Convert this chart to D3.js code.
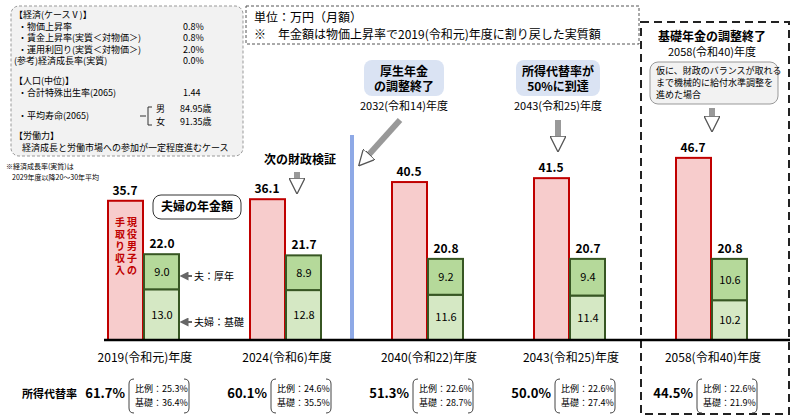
<!DOCTYPE html>
<html><head><meta charset="utf-8">
<script src="https://cdn.jsdelivr.net/npm/d3@7"></script>
<style>body{margin:0;background:#fff}text{font-family:"Noto Sans CJK JP","Noto Sans",sans-serif}</style>
</head><body><div id="chart"></div>
<script>
var years = ['2019(令和元)年度', '2024(令和6)年度', '2040(令和22)年度', '2043(令和25)年度', '2058(令和40)年度'];
var income = [35.7, 36.1, 40.5, 41.5, 46.7];
var kosei = [9.0, 8.9, 9.2, 9.4, 10.6];
var kiso = [13.0, 12.8, 11.6, 11.4, 10.2];
var pension = [22.0, 21.7, 20.8, 20.7, 20.8];
var ratio = ['61.7%', '60.1%', '51.3%', '50.0%', '44.5%'];
var hirei = ['25.3%', '24.6%', '22.6%', '22.6%', '22.6%'];
var kisoR = ['36.4%', '35.5%', '28.7%', '27.4%', '21.9%'];

var svg = d3.select('#chart').append('svg').attr('width', 800).attr('height', 417);
var defs = svg.append('defs');
defs.append('marker').attr('id', 'ah').attr('viewBox', '0 0 10 10').attr('refX', 5).attr('refY', 5)
  .attr('markerUnits', 'userSpaceOnUse').attr('markerWidth', 16).attr('markerHeight', 16).attr('orient', 'auto')
  .append('path').attr('d', 'M0,0L10,5L0,10z').attr('fill', '#fff').attr('stroke', '#555').attr('stroke-width', 0.8);
defs.append('marker').attr('id', 'as').attr('viewBox', '0 0 10 10').attr('refX', 5).attr('refY', 5)
  .attr('markerUnits', 'userSpaceOnUse').attr('markerWidth', 9).attr('markerHeight', 9).attr('orient', 'auto')
  .append('path').attr('d', 'M0,0L10,5L0,10z').attr('fill', '#666');

var x = d3.scaleBand().domain(years).range([73, 783]).paddingInner(0);
var y = d3.scaleLinear().domain([0, 50]).range([340, 145]);
var bw = 35;

// left info box
svg.append('rect').attr('x', 11).attr('y', 6).attr('width', 232).attr('height', 150).attr('rx', 8)
  .attr('fill', '#f2f2f2').attr('stroke', '#999').attr('stroke-dasharray', '3,2');
var info = [
  ['【経済(ケースⅤ)】', '', 0], ['・物価上昇率', '0.8%', 1], ['・賃金上昇率(実質＜対物価＞)', '0.8%', 1],
  ['・運用利回り(実質＜対物価＞)', '2.0%', 1], ['(参考)経済成長率(実質)', '0.0%', 0], ['', '', 0],
  ['【人口(中位)】', '', 0], ['・合計特殊出生率(2065)', '1.44', 1]
];
info.forEach(function(r, i) {
  var yy = 18 + i * 11.5 - (i > 5 ? 3 : 0);
  svg.append('text').attr('x', 14 + r[2] * 4).attr('y', yy).attr('font-size', 9).text(r[0]);
  svg.append('text').attr('x', 183).attr('y', yy).attr('font-size', 9).text(r[1]);
});
svg.append('text').attr('x', 18).attr('y', 119).attr('font-size', 9).text('・平均寿命(2065)');
svg.append('path').attr('d', 'M140,116h6M152,107h-4v18h4').attr('fill', 'none').attr('stroke', '#333');
svg.append('text').attr('x', 156).attr('y', 112).attr('font-size', 9).text('男');
svg.append('text').attr('x', 156).attr('y', 125).attr('font-size', 9).text('女');
svg.append('text').attr('x', 180).attr('y', 112).attr('font-size', 9).text('84.95歳');
svg.append('text').attr('x', 180).attr('y', 125).attr('font-size', 9).text('91.35歳');
svg.append('text').attr('x', 14).attr('y', 139).attr('font-size', 9).text('【労働力】');
svg.append('text').attr('x', 22).attr('y', 151).attr('font-size', 9).text('経済成長と労働市場への参加が一定程度進むケース');
svg.append('text').attr('x', 6).attr('y', 169).attr('font-size', 7).text('※経済成長率(実質)は');
svg.append('text').attr('x', 12).attr('y', 180).attr('font-size', 7).text('2029年度以降20～30年平均');

// unit box
svg.append('rect').attr('x', 246).attr('y', 6).attr('width', 393).attr('height', 38)
  .attr('fill', 'none').attr('stroke', '#555').attr('stroke-dasharray', '3,2');
svg.append('text').attr('x', 254).attr('y', 22).attr('font-size', 12).text('単位：万円（月額）');
svg.append('text').attr('x', 254).attr('y', 39).attr('font-size', 12).text('※　年金額は物価上昇率で2019(令和元)年度に割り戻した実質額');

// 2058 dashed box
svg.append('rect').attr('x', 641).attr('y', 22).attr('width', 148).attr('height', 392)
  .attr('fill', 'none').attr('stroke', '#222').attr('stroke-width', 2).attr('stroke-dasharray', '8,5');

// blue divider
svg.append('line').attr('x1', 352).attr('x2', 352).attr('y1', 135).attr('y2', 340)
  .attr('stroke', '#8ea9e6').attr('stroke-width', 4);

var g = svg.selectAll('.grp').data(years).enter().append('g');
g.append('rect').attr('x', function(d) { return x(d) + 35; }).attr('width', bw)
  .attr('y', function(d, i) { return y(income[i]); })
  .attr('height', function(d, i) { return y(0) - y(income[i]); })
  .attr('fill', '#f7cccc').attr('stroke', '#c00000').attr('stroke-width', 2);
g.append('rect').attr('x', function(d) { return x(d) + 71; }).attr('width', bw)
  .attr('y', function(d, i) { return y(kiso[i]); })
  .attr('height', function(d, i) { return y(0) - y(kiso[i]); })
  .attr('fill', '#d5e8c4').attr('stroke', '#375623').attr('stroke-width', 2);
g.append('rect').attr('x', function(d) { return x(d) + 71; }).attr('width', bw)
  .attr('y', function(d, i) { return y(kiso[i] + kosei[i]); })
  .attr('height', function(d, i) { return y(0) - y(kosei[i]); })
  .attr('fill', '#b5d99a').attr('stroke', '#375623').attr('stroke-width', 2);
g.append('text').attr('x', function(d) { return x(d) + 52; }).attr('y', function(d, i) { return y(income[i]) - 6; })
  .attr('text-anchor', 'middle').attr('font-size', 12).attr('font-weight', 'bold').text(function(d, i) { return income[i].toFixed(1); });
g.append('text').attr('x', function(d) { return x(d) + 89; }).attr('y', function(d, i) { return y(pension[i]) - 6; })
  .attr('text-anchor', 'middle').attr('font-size', 12).attr('font-weight', 'bold').text(function(d, i) { return pension[i].toFixed(1); });
g.append('text').attr('x', function(d) { return x(d) + 89; }).attr('y', function(d, i) { return y(kiso[i] + kosei[i] / 2) + 4; })
  .attr('text-anchor', 'middle').attr('font-size', 11).text(function(d, i) { return kosei[i].toFixed(1); });
g.append('text').attr('x', function(d) { return x(d) + 89; }).attr('y', function(d, i) { return y(kiso[i] / 2) + 4; })
  .attr('text-anchor', 'middle').attr('font-size', 11).text(function(d, i) { return kiso[i].toFixed(1); });
g.append('text').attr('x', function(d) { return x(d) + 72; }).attr('y', 362)
  .attr('text-anchor', 'middle').attr('font-size', 12).text(function(d) { return d; });
g.append('text').attr('x', function(d) { return x(d) + 52; }).attr('y', 398)
  .attr('text-anchor', 'end').attr('font-size', 13).attr('font-weight', 'bold').text(function(d, i) { return ratio[i]; });
g.append('path').attr('d', function(d) { var a = x(d) + 56; return 'M' + (a + 5) + ',379q-5,0 -5,5v24q0,5 5,5M' + (a + 55) + ',379q5,0 5,5v24q0,5 -5,5'; })
  .attr('fill', 'none').attr('stroke', '#444');
g.append('text').attr('x', function(d) { return x(d) + 62; }).attr('y', 392).attr('font-size', 9).text(function(d, i) { return '比例：' + hirei[i]; });
g.append('text').attr('x', function(d) { return x(d) + 62; }).attr('y', 406).attr('font-size', 9).text(function(d, i) { return '基礎：' + kisoR[i]; });
svg.append('text').attr('x', 22).attr('y', 398).attr('font-size', 11).attr('font-weight', 'bold').text('所得代替率');

// baseline
svg.append('line').attr('x1', 104).attr('x2', 790).attr('y1', 340).attr('y2', 340).attr('stroke', '#000').attr('stroke-width', 2.5);

// vertical label in first red bar
'現役男子の手取り収入'.split('').forEach(function(c, i) {
  var col = i < 5 ? 0 : 1;
  svg.append('text').attr('x', x(years[0]) + 59 - col * 12).attr('y', 226 + (i % 5) * 12)
    .attr('text-anchor', 'middle').attr('font-size', 10).attr('font-weight', 'bold').attr('fill', '#c00000').text(c);
});

// callouts
function callout(x0, y0, w, h, lines, fill) {
  svg.append('rect').attr('x', x0).attr('y', y0).attr('width', w).attr('height', h).attr('rx', 8)
    .attr('fill', fill).attr('stroke', fill === '#fff' ? '#333' : 'none');
  lines.forEach(function(t, i) {
    svg.append('text').attr('x', x0 + w / 2).attr('y', y0 + 16 + i * 15).attr('text-anchor', 'middle')
      .attr('font-size', 12).attr('font-weight', 'bold').text(t);
  });
}
function fatArrow(x1, y1, x2, y2) {
  svg.append('line').attr('x1', x1).attr('y1', y1).attr('x2', x2).attr('y2', y2)
    .attr('stroke', '#999').attr('stroke-width', 6).attr('marker-end', 'url(#ah)');
}
callout(364, 60, 80, 36, ['厚生年金', 'の調整終了'], '#dae3f3');
svg.append('text').attr('x', 404).attr('y', 110).attr('text-anchor', 'middle').attr('font-size', 11).text('2032(令和14)年度');
fatArrow(400, 120, 364, 160);
callout(516, 60, 84, 36, ['所得代替率が', '50%に到達'], '#dae3f3');
svg.append('text').attr('x', 558).attr('y', 110).attr('text-anchor', 'middle').attr('font-size', 11).text('2043(令和25)年度');
fatArrow(558, 120, 558, 144);
svg.append('text').attr('x', 712).attr('y', 41).attr('text-anchor', 'middle').attr('font-size', 12).attr('font-weight', 'bold').text('基礎年金の調整終了');
svg.append('text').attr('x', 712).attr('y', 56).attr('text-anchor', 'middle').attr('font-size', 11).text('2058(令和40)年度');
svg.append('rect').attr('x', 650).attr('y', 62).attr('width', 128).attr('height', 42).attr('rx', 8).attr('fill', '#f2f2f2').attr('stroke', '#999');
['仮に、財政のバランスが取れる', 'まで機械的に給付水準調整を', '進めた場合'].forEach(function(t, i) {
  svg.append('text').attr('x', 656).attr('y', 74 + i * 12).attr('font-size', 9).text(t);
});
fatArrow(712, 108, 712, 124);
svg.append('text').attr('x', 300).attr('y', 164).attr('text-anchor', 'middle').attr('font-size', 12).attr('font-weight', 'bold').text('次の財政検証');
fatArrow(297, 172, 297, 186);
callout(153, 195, 88, 24, ['夫婦の年金額'], '#fff');
svg.append('text').attr('x', 194).attr('y', 280).attr('font-size', 10).text('夫：厚年');
svg.append('text').attr('x', 194).attr('y', 326).attr('font-size', 10).text('夫婦：基礎');
svg.append('line').attr('x1', 192).attr('y1', 276).attr('x2', 184).attr('y2', 276).attr('stroke', '#666').attr('stroke-width', 2).attr('marker-end', 'url(#as)');
svg.append('line').attr('x1', 192).attr('y1', 322).attr('x2', 184).attr('y2', 322).attr('stroke', '#666').attr('stroke-width', 2).attr('marker-end', 'url(#as)');
</script></body></html>
